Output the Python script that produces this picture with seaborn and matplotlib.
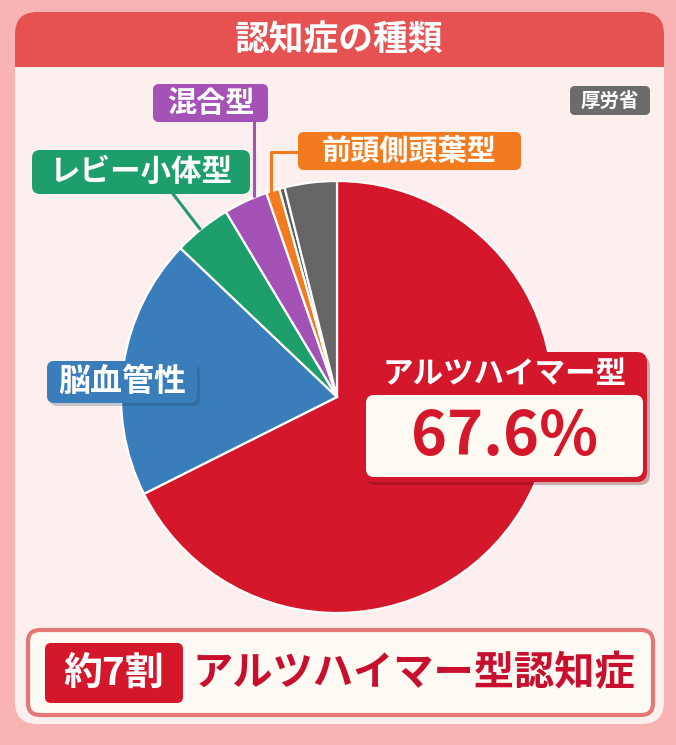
import matplotlib
matplotlib.use("Agg")
import matplotlib.pyplot as plt
import seaborn as sns
from matplotlib.patches import FancyBboxPatch, Rectangle

# ---- data ----
categories = ['アルツハイマー型', '脳血管性', 'レビー小体型', '混合型', '前頭側頭葉型', 'アルコール性', 'その他']
values = [67.6, 19.5, 4.3, 3.3, 1.0, 0.4, 3.9]
slice_colors = ['#d5172b', '#3a7dbb', '#1e9e6b', '#a452b6', '#f47a1f', '#5a5a5a', '#666666']
title = '認知症の種類'
source = '厚労省'
headline_tag = '約7割'
headline = 'アルツハイマー型認知症'

sns.set_theme(style='white')
plt.rcParams['font.family'] = ['Noto Sans CJK JP', 'DejaVu Sans']

W, H = 676, 745
fig = plt.figure(figsize=(W / 100, H / 100), dpi=100)
fig.patch.set_facecolor('#f8b3b3')

# background layer
bg = fig.add_axes([0, 0, 1, 1], zorder=0)
bg.set_xlim(0, W); bg.set_ylim(H, 0); bg.axis('off')

def rbox(ax, x0, y0, x1, y1, fc, ec='none', lw=0, r=8, z=1, alpha=1.0):
    p = FancyBboxPatch((x0, y0), x1 - x0, y1 - y0,
                       boxstyle=f"round,pad=0,rounding_size={r}",
                       fc=fc, ec=ec, lw=lw, zorder=z, alpha=alpha)
    ax.add_patch(p)
    return p

# panel
rbox(bg, 15, 12, 664, 724, '#fcefee', r=22, z=1)
# title bar
rbox(bg, 15, 12, 664, 67, '#e65151', r=22, z=2)
bg.add_patch(Rectangle((15, 40), 649, 27, fc='#e65151', ec='none', zorder=2))
bg.text(339.5, 40, title, color='white', fontsize=25, fontweight='bold',
        ha='center', va='center', zorder=3)

# pie
cx, cy, R = 337, 397, 216
pax = fig.add_axes([(cx - R) / W, (H - cy - R) / H, 2 * R / W, 2 * R / H], zorder=1)
pax.pie(values, colors=slice_colors, startangle=90, counterclock=False,
        radius=1.0, wedgeprops=dict(edgecolor='white', linewidth=1.6))
pax.set_xlim(-1.0, 1.0); pax.set_ylim(-1.0, 1.0)
pax.set_aspect('equal'); pax.axis('off')

# overlay layer
ov = fig.add_axes([0, 0, 1, 1], zorder=2)
ov.set_xlim(0, W); ov.set_ylim(H, 0); ov.axis('off')
ov.patch.set_alpha(0)

# source tag
rbox(ov, 570, 86, 650, 115, '#6b6b6b', r=5)
ov.text(610, 101, source, color='white', fontsize=14, fontweight='bold', ha='center', va='center', zorder=3)

# 混合型
ov.plot([254, 254], [120, 196], color='#a452b6', lw=2.2, zorder=1)
rbox(ov, 153, 84, 268, 122, '#a452b6', r=6)
ov.text(210.5, 103, categories[3], color='white', fontsize=21, fontweight='bold', ha='center', va='center', zorder=3)

# 前頭側頭葉型
ov.plot([300, 271, 271], [152, 152, 193], color='#f47a1f', lw=2.2, zorder=1)
rbox(ov, 298, 132, 521, 170, '#f47a1f', r=6)
ov.text(409.5, 151, categories[4], color='white', fontsize=21, fontweight='bold', ha='center', va='center', zorder=3)

# レビー小体型
ov.plot([170, 200], [190, 229], color='#1e9e6b', lw=2.2, zorder=1)
rbox(ov, 32, 150, 250, 194, '#1e9e6b', r=8)
ov.text(141, 172, categories[2], color='white', fontsize=22, fontweight='bold', ha='center', va='center', zorder=3)

# 脳血管性
rbox(ov, 50, 365, 200, 406, '#1d3f60', r=7, alpha=0.25)
rbox(ov, 47, 361, 197, 403, '#3a7dbb', r=7)
ov.text(122, 382, categories[1], color='white', fontsize=23, fontweight='bold', ha='center', va='center', zorder=3)

# アルツハイマー型 callout
rbox(ov, 365, 356, 650, 485, '#5a0a10', r=10, alpha=0.3)
rbox(ov, 362, 352, 647, 482, '#d5172b', r=10)
rbox(ov, 366, 395, 643, 477, '#fffaf2', r=8, z=2)
ov.text(504.5, 374, categories[0], color='white', fontsize=22, fontweight='bold', ha='center', va='center', zorder=3)
ov.text(504.5, 437, f'{values[0]:.1f}%', color='#d5172b', fontsize=44, fontweight='bold',
        ha='center', va='center', zorder=3)

# bottom headline box
rbox(ov, 28, 630, 653, 715, '#fffaf3', ec='#e57777', lw=3, r=12)
rbox(ov, 45, 643, 183, 703, '#d5172b', r=6, z=2)
ov.text(114, 673, headline_tag, color='white', fontsize=28, fontweight='bold', ha='center', va='center', zorder=3)
ov.text(414, 674, headline, color='#c8102e', fontsize=29, fontweight='bold', ha='center', va='center', zorder=3)

fig.savefig('out.png', dpi=100, facecolor=fig.get_facecolor())
